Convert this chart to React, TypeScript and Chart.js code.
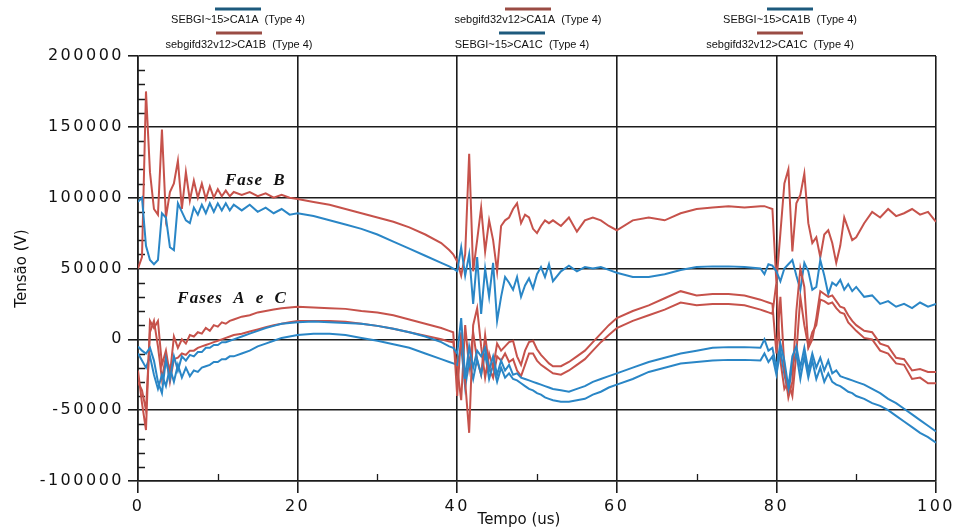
import React, { useEffect, useRef } from "react";
import { Chart, registerables } from "chart.js";

Chart.register(...registerables);

// Time axis (us)
const tempo = [
  0, 0.5, 1, 1.5, 2, 2.5, 3, 3.5, 4, 4.5, 5, 5.5, 6, 6.5, 7, 7.5, 8, 8.5, 9, 9.5, 10, 10.5, 11, 11.5, 12,
  13, 14, 15, 16, 17, 18, 19, 20,
  22, 24, 26, 28, 30, 32, 34, 36, 38,
  39, 39.5,
  40, 40.5, 41, 41.5, 42, 42.5, 43, 43.5, 44, 44.5, 45, 45.5, 46, 46.5, 47, 47.5, 48, 48.5, 49, 49.5, 50, 50.5, 51, 51.5, 52,
  53, 54, 55, 56, 57, 58, 59, 60,
  62, 64, 66, 68, 70, 72, 74, 76, 78,
  78.5, 79, 79.5, 80, 80.5, 81, 81.5, 82, 82.5, 83, 83.5, 84, 84.5, 85, 85.5, 86, 86.5, 87, 87.5, 88, 88.5, 89, 89.5, 90,
  91, 92, 93, 94, 95, 96, 97, 98, 99, 100,
];

// Series values (V)
const sebgiA = [
  -5000, -8000, -10000, -6000, -15000, -30000, -38000, -14000, -28000, -12000, -22000, -12000, -15000, -11000, -12000, -9000, -9000, -6000, -6000, -4000, -4000, -2000, -2000, -1000, 0,
  2000, 4000, 6000, 8000, 9500, 11000, 11500, 12000,
  12500, 12000, 11500, 11000, 9500, 7500, 5000, 2000, -2000,
  -5000, -6000,
  -10000, 15000, -28000, -5000, -20000, -8000, -12000, -6000, -22000, -12000, -25000, -15000, -22000, -18000, -25000, -24000, -27000, -28000, -29000, -30000, -31000, -32000, -33000, -34000, -35000,
  -36000, -37000, -35000, -33000, -30000, -28000, -26000, -24000,
  -20000, -16000, -13000, -10000, -8000, -6000, -5500, -5500, -6000,
  0, -8000, -6000, -20000, -3000, -15000, -34000, -12000, -5000, -20000, -6000, -22000, -10000, -20000, -13000, -22000, -15000, -24000, -22000, -26000, -27000, -28000, -29000, -30000,
  -32000, -35000, -38000, -42000, -45000, -49000, -53000, -57000, -61000, -65000,
];

const sebgifdA = [
  -22000, -45000, -64000, 13000, 8000, 13000, -18000, -8000, -25000, 2000, -6000, 0, -3000, 3000, 2000, 5000, 4000, 8000, 6000, 10000, 9000, 12000, 11000, 13000, 14000,
  16000, 17000, 19000, 20000, 21000, 22000, 22500, 23000,
  22500, 22000, 21500, 20000, 19000, 17000, 14000, 11000, 8000,
  6000, 5000,
  -40000, 5000, -30000, -66000, 10000, 22000, -5000, -27000, -10000, -20000, -3000, -8000, -5000, -2000, -1000, -12000, -18000, -8000, -2000, -1000, -7000, -11000, -14000, -17000, -19000,
  -19000, -16000, -12000, -8000, -2000, 4000, 10000, 15000,
  20000, 24000, 29000, 34000, 31000, 32000, 32000, 31000, 28000,
  27000, 26000, 25000, -10000, 30000, -20000, -41000, -30000, 20000, 50000, 37000, -6000, 0, 15000, 34000, 32000, 30000, 31000, 27000, 23000, 22000, 17000, 13000, 10000,
  6000, 5000, -3000, -5000, -13000, -14000, -22000, -21000, -23000, -23000,
];

const sebgiB = [
  97000, 100000, 66000, 56000, 53000, 56000, 89000, 86000, 65000, 63000, 96000, 90000, 84000, 82000, 93000, 88000, 95000, 89000, 96000, 90000, 96000, 91000, 96000, 91000, 95000,
  91000, 95000, 90000, 93000, 89000, 92000, 88000, 89000,
  87000, 84000, 81000, 78000, 74000, 69000, 64000, 59000, 54000,
  51500, 50000,
  48000, 65000, 45000, 60000, 25000, 58000, 18000, 50000, 30000, 54000, 13000, 30000, 44000, 40000, 35000, 44000, 30000, 38000, 43000, 36000, 46000, 51000, 44000, 53000, 41000,
  48000, 52000, 48000, 51000, 50000, 51000, 49000, 47000,
  44000, 44000, 46000, 49000, 51000, 51500, 51500, 51000, 50000,
  46000, 53000, 52000, 48000, 41000, 50000, 53000, 56000, 45000, 35000, 54000, 48000, 35000, 37000, 56000, 45000, 32000, 40000, 38000, 42000, 35000, 39000, 34000, 37000,
  30000, 31000, 25000, 27000, 23000, 25000, 22000, 26000, 23000, 25000,
];

const sebgifdB = [
  50000, 58000, 175000, 118000, 92000, 88000, 148000, 86000, 104000, 110000, 126000, 92000, 118000, 98000, 112000, 100000, 110000, 99000, 108000, 100000, 106000, 101000, 105000, 101000, 104000,
  102000, 104000, 101000, 103000, 100000, 102000, 100000, 99000,
  97000, 95000, 92000, 89000, 86000, 83000, 79000, 74000, 68000,
  63000, 60000,
  55000, 45000, 60000, 131000, 48000, 70000, 93000, 62000, 84000, 70000, 48000, 80000, 84000, 86000, 92000, 96000, 82000, 88000, 86000, 78000, 75000, 80000, 84000, 82000, 84000,
  80000, 86000, 76000, 84000, 86000, 84000, 80000, 77000,
  84000, 86000, 84000, 89000, 92000, 93000, 94000, 93000, 94000,
  94000, 93000, 92000, 40000, 75000, 110000, 120000, 62000, 96000, 102000, 117000, 82000, 68000, 72000, 58000, 74000, 77000, 68000, 54000, 66000, 86000, 78000, 70000, 72000,
  82000, 90000, 86000, 92000, 87000, 89000, 92000, 88000, 90000, 83000,
];

const sebgiC = [
  -10000, -15000, -20000, -12000, -25000, -35000, -25000, -33000, -20000, -30000, -18000, -27000, -20000, -26000, -22000, -23000, -20000, -19000, -18000, -16000, -16000, -14000, -14000, -12000, -12000,
  -10000, -8000, -5000, -3000, -1000, 1000, 2000, 3000,
  4000, 4000, 3000, 1000, -1000, -3500, -6000, -10000, -14000,
  -16000, -17000,
  -18000, -5000, -34000, -15000, -28000, -14000, -25000, -10000, -28000, -18000, -30000, -20000, -27000, -24000, -28000, -29000, -31000, -33000, -35000, -36000, -38000, -39000, -41000, -42000, -43000,
  -44000, -44000, -43000, -42000, -39000, -37000, -34000, -32000,
  -28000, -23000, -20000, -17000, -16000, -15000, -14500, -14500, -15000,
  -10000, -16000, -12000, -25000, -8000, -25000, -38000, -18000, -10000, -28000, -12000, -27000, -15000, -28000, -20000, -30000, -24000, -30000, -32000, -33000, -35000, -37000, -38000, -40000,
  -42000, -45000, -47000, -50000, -54000, -58000, -62000, -66000, -69000, -73000,
];

const sebgifdC = [
  -30000, -36000, -50000, 5000, 13000, -5000, -28000, -12000, -30000, -14000, -13000, -10000, -11000, -8000, -8000, -6000, -5000, -4000, -3000, -2000, -1000, 0, 1000, 2000, 3000,
  4000, 5500, 7000, 8500, 10000, 11000, 12000, 13000,
  13000, 13000, 12500, 11000, 9500, 7500, 5000, 2500, 0,
  -1500, -2000,
  -20000, -43000, 10000, -20000, 5000, -15000, -25000, 3000, -20000, -27000, -12000, -15000, -10000, -16000, -14000, -22000, -26000, -18000, -10000, -10000, -15000, -18000, -20000, -22000, -24000,
  -25000, -22000, -18000, -14000, -8000, -2000, 3000, 8000,
  13000, 17000, 21000, 26000, 24000, 25000, 25000, 24000, 21000,
  20000, 19000, 18000, 40000, -15000, -35000, -30000, -40000, -10000, 30000, 10000, -5000, 5000, 10000, 28000, 27000, 25000, 26000, 22000, 19000, 18000, 12000, 9000, 6000,
  1000, 0, -8000, -10000, -17000, -18000, -28000, -27000, -31000, -31000,
];

const seriesLabels = [
  "SEBGI~15>CA1A  (Type 4)",
  "sebgifd32v12>CA1A  (Type 4)",
  "SEBGI~15>CA1B  (Type 4)",
  "sebgifd32v12>CA1B  (Type 4)",
  "SEBGI~15>CA1C  (Type 4)",
  "sebgifd32v12>CA1C  (Type 4)",
];
const seriesValues = [sebgiA, sebgifdA, sebgiB, sebgifdB, sebgiC, sebgifdC];

const xAxisTitle = "Tempo (us)";
const yAxisTitle = "Tensão (V)";

const annotations = [
  { text: "Fase B", x: 14.7, y: 112000 },
  { text: "Fases A e C", x: 11.8, y: 29000 },
];

const BLUE = "#2a86c6";
const RED = "#c6524b";
const LEGEND_BLUE = "#1d5a7d";
const LEGEND_RED = "#9a4c44";
const GRID = "#1c1c1c";
const TICK_FONT = "'DejaVu Sans', sans-serif";

export default function App() {
  const ref = useRef<HTMLCanvasElement | null>(null);

  useEffect(() => {
    const canvas = ref.current;
    if (!canvas) return;

    const datasets = seriesValues.map((vals, i) => {
      const isBlue = i % 2 === 0;
      return {
        label: seriesLabels[i],
        data: tempo.map((t, k) => ({ x: t, y: vals[k] })),
        borderColor: isBlue ? BLUE : RED,
        legendColor: isBlue ? LEGEND_BLUE : LEGEND_RED,
        borderWidth: 2,
        pointRadius: 0,
        tension: 0,
        fill: false,
      };
    });

    const customPlugin = {
      id: "custom",
      beforeDraw(chart: any) {
        chart.ctx.letterSpacing = "0px";
      },
      beforeDatasetsDraw(chart: any) {
        const { ctx, chartArea, scales } = chart;
        const xs = scales.x;
        const ys = scales.y;
        ctx.save();
        ctx.strokeStyle = GRID;
        ctx.lineWidth = 1.3;
        ctx.beginPath();
        for (let v = -90000; v < 200000; v += 10000) {
          if (v % 50000 === 0) continue;
          const py = Math.round(ys.getPixelForValue(v)) + 0.5;
          ctx.moveTo(chartArea.left, py);
          ctx.lineTo(chartArea.left + 7, py);
        }
        for (let v = 10; v < 100; v += 20) {
          const px = Math.round(xs.getPixelForValue(v)) + 0.5;
          ctx.moveTo(px, chartArea.bottom);
          ctx.lineTo(px, chartArea.bottom - 7);
        }
        ctx.stroke();
        ctx.restore();
      },
      afterDatasetsDraw(chart: any) {
        chart.ctx.letterSpacing = "2.5px";
      },
      afterDraw(chart: any) {
        const { ctx, scales } = chart;
        ctx.letterSpacing = "0px";
        ctx.save();
        // legend
        const rows = [
          { idx: [0, 1, 2], centers: [238, 528, 790], lineY: 9, textY: 20 },
          { idx: [3, 4, 5], centers: [239, 522, 780], lineY: 33, textY: 45 },
        ];
        ctx.font = "11px 'Liberation Sans', Arial, sans-serif";
        ctx.textAlign = "center";
        ctx.textBaseline = "middle";
        rows.forEach((row) => {
          row.idx.forEach((di, j) => {
            const ds: any = chart.data.datasets[di];
            const cx = row.centers[j];
            ctx.fillStyle = ds.legendColor;
            ctx.fillRect(cx - 23, row.lineY - 1.5, 46, 3);
            ctx.fillStyle = "#111";
            ctx.fillText(ds.label, cx, row.textY);
          });
        });
        // x axis title
        ctx.font = "15px " + TICK_FONT;
        ctx.fillText(xAxisTitle, 519, 520);
        // annotations
        ctx.font = "italic bold 17px 'Liberation Serif', 'Times New Roman', serif";
        (ctx as any).letterSpacing = "1px";
        (ctx as any).wordSpacing = "5px";
        ctx.fillStyle = "#111";
        annotations.forEach((a) => {
          ctx.fillText(a.text, scales.x.getPixelForValue(a.x), scales.y.getPixelForValue(a.y));
        });
        ctx.restore();
        ctx.letterSpacing = "0px";
      },
    };

    const chart = new Chart(canvas, {
      type: "line",
      data: { datasets } as any,
      options: {
        responsive: false,
        animation: false,
        devicePixelRatio: 1,
        layout: { padding: { top: 56, right: 21, left: 0, bottom: 0 } },
        plugins: { legend: { display: false }, tooltip: { enabled: false } },
        scales: {
          x: {
            type: "linear",
            min: 0,
            max: 100,
            afterFit: (s: any) => {
              s.height = 51;
            },
            ticks: {
              stepSize: 20,
              z: 1,
              padding: 4,
              color: "#111",
              font: { family: TICK_FONT, size: 16 },
              maxRotation: 0,
            },
            grid: { color: GRID, lineWidth: 1.6, tickLength: 12, z: -1 },
            border: { color: GRID, width: 1.6 },
            title: { display: false },
          },
          y: {
            type: "linear",
            min: -100000,
            max: 200000,
            afterFit: (s: any) => {
              s.width = 138;
            },
            ticks: {
              stepSize: 50000,
              z: 1,
              padding: 4,
              color: "#111",
              font: { family: TICK_FONT, size: 16 },
              callback: (v: any) => String(v),
            },
            grid: { color: GRID, lineWidth: 1.6, tickLength: 10, z: -1 },
            border: { color: GRID, width: 1.6 },
            title: {
              display: true,
              text: yAxisTitle,
              color: "#111",
              font: { family: TICK_FONT, size: 15 },
              padding: { top: 13, bottom: 0 },
            },
          },
        },
      } as any,
      plugins: [customPlugin],
    });

    return () => chart.destroy();
  }, []);

  return (
    <div style={{ position: "fixed", left: 0, top: 0, width: 957, height: 532, background: "#fff" }}>
      <canvas ref={ref} width={957} height={532} style={{ display: "block" }} />
    </div>
  );
}
